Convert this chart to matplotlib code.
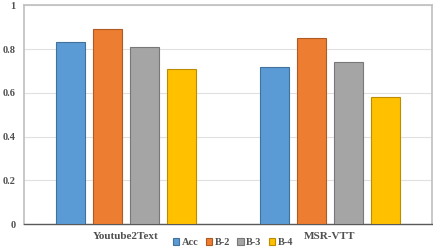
import matplotlib.pyplot as plt
import numpy as np

datasets = ['Youtube2Text', 'MSR-VTT']
metrics = ['Acc', 'B-2', 'B-3', 'B-4']
acc = [0.83, 0.72]
b2 = [0.89, 0.85]
b3 = [0.81, 0.74]
b4 = [0.71, 0.58]
colors = ['#5B9BD5', '#ED7D31', '#A5A5A5', '#FFC000']
edges = ['#41719C', '#AE5A21', '#787878', '#BC8C00']

plt.rcParams['font.family'] = ['Liberation Serif', 'DejaVu Serif']
plt.rcParams['font.weight'] = 'bold'

fig = plt.figure(figsize=(4.33, 2.48), dpi=100)
ax = fig.add_axes([24 / 433, 1 - 224 / 248, 408 / 433, 218.7 / 248])

x = np.arange(len(datasets))
width = 0.142
step = 0.181
for i, (vals, name) in enumerate(zip([acc, b2, b3, b4], metrics)):
    ax.bar(x + (i - 1.5) * step, vals, width, color=colors[i],
           edgecolor=edges[i], linewidth=0.8, label=name, zorder=3)

ax.set_xlim(-0.5, 1.5)
ax.set_ylim(0, 1)
ax.set_yticks([0, 0.2, 0.4, 0.6, 0.8, 1])
ax.set_yticklabels(['0', '0.2', '0.4', '0.6', '0.8', '1'])
ax.yaxis.grid(True, color='#E0E0E0', linewidth=0.8, zorder=0)
ax.tick_params(axis='y', length=0, labelsize=7.5, pad=6, labelcolor='#505050')
ax.set_xticks(x)
ax.set_xticklabels(datasets)
ax.tick_params(axis='x', length=0, labelsize=8, pad=6, labelcolor='#505050')

for side in ['top', 'right', 'left']:
    ax.spines[side].set_color('#BFBFBF')
    ax.spines[side].set_linewidth(1.2)
ax.spines['bottom'].set_color('#595959')
ax.spines['bottom'].set_linewidth(1.0)

fig.legend(loc='center', bbox_to_anchor=(233 / 433, 1 - 242.5 / 248), ncol=4,
           frameon=False, fontsize=7.5, handlelength=0.6, handleheight=0.6,
           handletextpad=0.25, columnspacing=0.7, labelcolor='#505050')

fig.savefig('out.png', dpi=100)
